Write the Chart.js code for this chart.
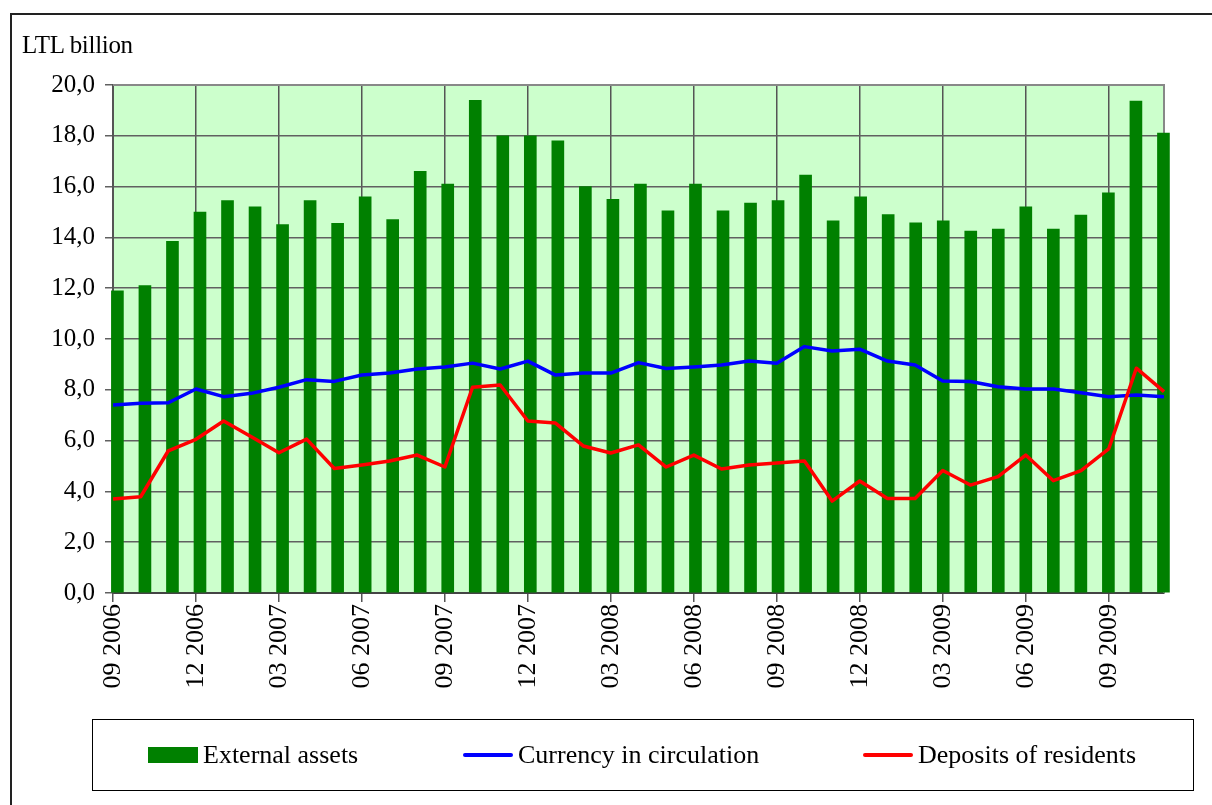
<!DOCTYPE html>
<html>
<head>
<meta charset="utf-8">
<script src="https://cdn.jsdelivr.net/npm/chart.js@4.4.0/dist/chart.umd.min.js"></script>
<style>
  html, body { margin: 0; padding: 0; background: #fff; overflow: hidden; }
  #wrap { position: relative; width: 1212px; height: 805px; font-family: "Liberation Serif", "Times New Roman", serif; }
  #frame { position: absolute; left: 10px; top: 13px; width: 1230px; height: 830px;
           border-left: 2px solid #222; border-top: 2px solid #222; }
  #chart { position: absolute; left: 0; top: 0; }
  #unit { position: absolute; left: 22px; top: 32px; font-size: 25px; line-height: 1; color: #000; letter-spacing: -0.3px; }
  #legend { position: absolute; left: 92px; top: 719px; width: 1100px; height: 70px; border: 1.5px solid #000; }
  .item { position: absolute; top: 0; height: 70px; display: flex; align-items: center; font-size: 26px; color: #000; white-space: nowrap; }
  .sw { margin-right: 5px; }
</style>
</head>
<body>
<div id="wrap">
  <div id="frame"></div>
  <canvas id="chart" width="1212" height="805"></canvas>
  <div id="unit">LTL billion</div>
  <div id="legend"></div>
</div>
<script>
// Month labels (mm yyyy)
const months = [
  "09 2006", "10 2006", "11 2006", "12 2006",
  "01 2007", "02 2007", "03 2007", "04 2007", "05 2007", "06 2007",
  "07 2007", "08 2007", "09 2007", "10 2007", "11 2007", "12 2007",
  "01 2008", "02 2008", "03 2008", "04 2008", "05 2008", "06 2008",
  "07 2008", "08 2008", "09 2008", "10 2008", "11 2008", "12 2008",
  "01 2009", "02 2009", "03 2009", "04 2009", "05 2009", "06 2009",
  "07 2009", "08 2009", "09 2009", "10 2009", "11 2009"
];

// Series, LTL billion
const externalAssets = [
  11.9, 12.1, 13.85, 15.0, 15.45, 15.2, 14.5, 15.45, 14.55, 15.6,
  14.7, 16.6, 16.1, 19.4, 18.0, 18.0, 17.8, 16.0, 15.5, 16.1,
  15.05, 16.1, 15.05, 15.35, 15.45, 16.45, 14.65, 15.6, 14.9, 14.57,
  14.65, 14.25, 14.33, 15.2, 14.33, 14.88, 15.75, 19.37, 18.11
];
const currency = [
  7.4, 7.47, 7.49, 8.03, 7.73, 7.86, 8.1, 8.4, 8.33, 8.58,
  8.66, 8.82, 8.9, 9.05, 8.82, 9.13, 8.58, 8.66, 8.66, 9.07,
  8.84, 8.9, 8.98, 9.13, 9.05, 9.7, 9.53, 9.6, 9.13, 8.98,
  8.35, 8.33, 8.12, 8.03, 8.03, 7.88, 7.73, 7.8, 7.73
];
const deposits = [
  3.7, 3.79, 5.6, 6.05, 6.77, 6.15, 5.52, 6.06, 4.9, 5.04,
  5.2, 5.43, 4.96, 8.1, 8.19, 6.77, 6.69, 5.79, 5.51, 5.83,
  4.96, 5.43, 4.88, 5.04, 5.12, 5.2, 3.62, 4.41, 3.72, 3.72,
  4.82, 4.25, 4.58, 5.43, 4.42, 4.82, 5.67, 8.85, 7.93
];

const yTicks = [0, 2, 4, 6, 8, 10, 12, 14, 16, 18, 20];

Chart.defaults.font.family = '"Liberation Serif", "Times New Roman", serif';
Chart.defaults.color = '#000';

// green plot area + grey frame on top/right
const plotFrame = {
  id: 'plotFrame',
  beforeDraw(chart) {
    const a = chart.chartArea, c = chart.ctx;
    c.save();
    c.fillStyle = '#ccffcc';
    c.fillRect(a.left, a.top, a.right - a.left, a.bottom - a.top);
    c.restore();
  },
  beforeDatasetsDraw(chart) {
    const a = chart.chartArea, c = chart.ctx;
    c.save();
    c.strokeStyle = '#888';
    c.lineWidth = 2;
    c.beginPath();
    c.moveTo(a.left, a.top);
    c.lineTo(a.right, a.top);
    c.lineTo(a.right, a.bottom);
    c.stroke();
    c.restore();
  }
};

const quarterly = (i) => i % 3 === 0;

const chart = new Chart(document.getElementById('chart'), {
  type: 'bar',
  data: {
    labels: months,
    datasets: [
      {
        type: 'line',
        label: 'Currency in circulation',
        data: currency,
        xAxisID: 'x',
        borderColor: '#0000ff',
        backgroundColor: '#0000ff',
        borderWidth: 3.5,
        pointRadius: 0,
        tension: 0,
        borderJoinStyle: 'round',
        order: 2
      },
      {
        type: 'line',
        label: 'Deposits of residents',
        data: deposits,
        xAxisID: 'x',
        borderColor: '#ff0000',
        backgroundColor: '#ff0000',
        borderWidth: 3.5,
        pointRadius: 0,
        tension: 0,
        borderJoinStyle: 'round',
        order: 1
      },
      {
        type: 'bar',
        label: 'External assets',
        data: externalAssets.map((v, i) => ({ x: i, y: v })),
        xAxisID: 'xb',
        backgroundColor: '#008000',
        barThickness: 12,
        grouped: false,
        clip: false,
        order: 3
      }
    ]
  },
  options: {
    responsive: false,
    animation: false,
    layout: { padding: { top: 85, right: 48, left: 0, bottom: 0 } },
    plugins: {
      legend: { display: false },
      tooltip: { enabled: false }
    },
    scales: {
      x: {
        type: 'category',
        offset: false,
        afterFit(scale) { scale.height = 805 - 593; },
        border: { display: true, color: '#444', width: 2 },
        grid: {
          offset: false,
          color: (ctx) => quarterly(ctx.index) ? '#555' : 'rgba(0,0,0,0)',
          tickColor: (ctx) => quarterly(ctx.index) ? '#555' : 'rgba(0,0,0,0)',
          lineWidth: 1.5,
          tickLength: 9
        },
        ticks: {
          autoSkip: false,
          minRotation: 90,
          maxRotation: 90,
          padding: 2,
          font: { size: 26 },
          callback(v, i) { return quarterly(i) ? months[i] : ''; }
        }
      },
      // bars sit a little right of the month tick, as in the source
      xb: {
        type: 'linear',
        position: 'bottom',
        offset: false,
        bounds: 'data',
        min: -0.16,
        max: 38.02,
        afterFit(scale) { scale.height = 0; },
        border: { display: false },
        grid: { display: false, drawTicks: false, offset: false },
        ticks: { display: false }
      },
      y: {
        min: 0,
        max: 20,
        afterFit(scale) { scale.width = 113; },
        afterBuildTicks(scale) { scale.ticks = yTicks.map(v => ({ value: v })); },
        border: { display: true, color: '#555', width: 2 },
        grid: { color: '#606060', lineWidth: 1.5, tickLength: 8 },
        ticks: {
          padding: 10,
          font: { size: 25 },
          callback(v) { return v.toFixed(1).replace('.', ','); }
        }
      }
    }
  },
  plugins: [plotFrame]
});

// legend drawn as html from the datasets
const legendSpots = { 'External assets': 55, 'Currency in circulation': 370, 'Deposits of residents': 770 };
const legend = document.getElementById('legend');
['External assets', 'Currency in circulation', 'Deposits of residents'].forEach(name => {
  const ds = chart.data.datasets.find(d => d.label === name);
  const item = document.createElement('div');
  item.className = 'item';
  item.style.left = legendSpots[name] + 'px';
  const sw = document.createElement('span');
  sw.className = 'sw';
  sw.style.display = 'inline-block';
  sw.style.width = '50px';
  if (ds.type === 'bar') {
    sw.style.height = '16px';
    sw.style.background = ds.backgroundColor;
  } else {
    sw.style.height = '3.5px';
    sw.style.borderRadius = '2px';
    sw.style.background = ds.borderColor;
  }
  item.appendChild(sw);
  const txt = document.createElement('span');
  txt.textContent = name;
  item.appendChild(txt);
  legend.appendChild(item);
});
</script>
</body>
</html>
